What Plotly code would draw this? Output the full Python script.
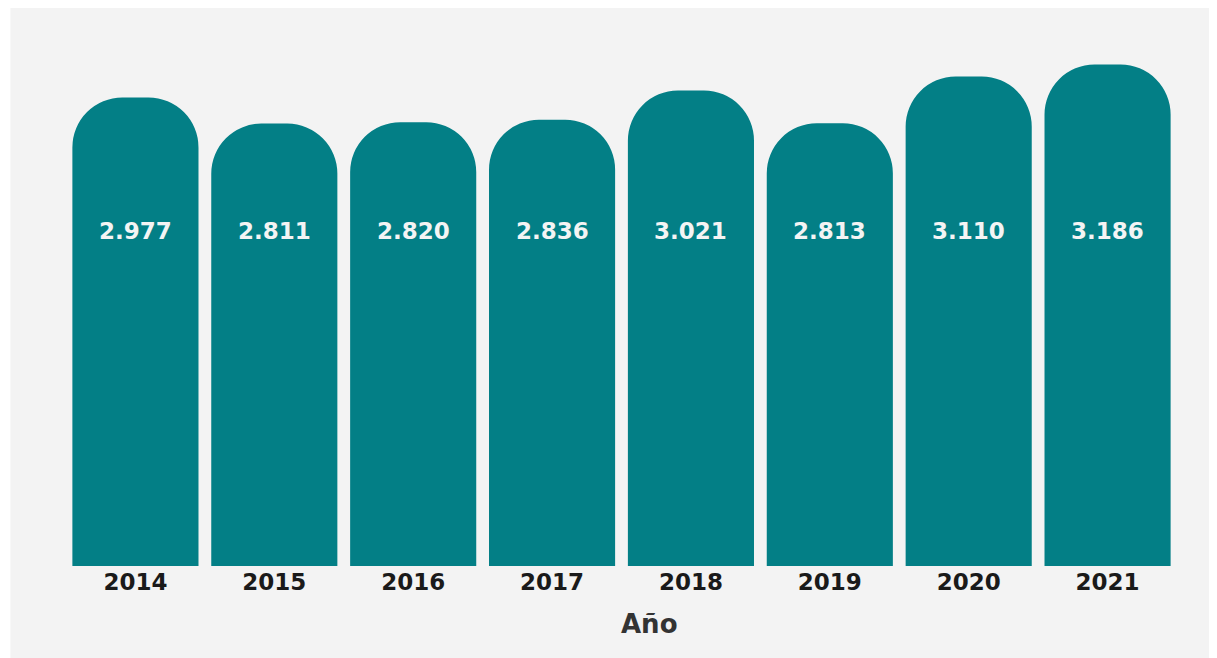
import plotly.graph_objects as go

# datos
anios = ["2014", "2015", "2016", "2017", "2018", "2019", "2020", "2021"]
valores = [2977, 2811, 2820, 2836, 3021, 2813, 3110, 3186]
etiquetas = ["2.977", "2.811", "2.820", "2.836", "3.021", "2.813", "3.110", "3.186"]
titulo_x = "Año"

TEAL = "#037f86"
GRIS = "#f3f3f3"
FUENTE = "DejaVu Sans, Arial, sans-serif"

fig = go.Figure()
fig.add_trace(go.Bar(
    x=anios,
    y=valores,
    marker=dict(color=TEAL, cornerradius=50, line=dict(width=0)),
    hoverinfo="x+y",
))

# etiquetas de valor a altura fija (x = indice de categoria)
for i, t in enumerate(etiquetas):
    fig.add_annotation(
        x=i, y=0.637, xref="x", yref="paper",
        text="<b>%s</b>" % t, showarrow=False,
        font=dict(family=FUENTE, size=23, color="#f4f4f4"),
    )

# titulo del eje x (algo desplazado a la derecha, como en el original)
fig.add_annotation(
    x=0.525, y=-0.11, xref="paper", yref="paper",
    text="<b>%s</b>" % titulo_x, showarrow=False, yanchor="middle",
    font=dict(family=FUENTE, size=26, color="#333333"),
)

# panel gris de fondo
fig.add_shape(
    type="rect", xref="paper", yref="paper",
    x0=-0.05, x1=1.05, y0=-0.2, y1=1.1,
    fillcolor=GRIS, line=dict(width=0), layer="below",
)

fig.update_layout(
    width=1217, height=658,
    margin=dict(l=58, r=48, t=32, b=100),
    paper_bgcolor="white",
    plot_bgcolor="rgba(0,0,0,0)",
    bargap=0.092,
    showlegend=False,
    font=dict(family=FUENTE),
)
fig.update_xaxes(
    type="category",
    showgrid=False, showline=False, zeroline=False, ticks="",
    tickfont=dict(family=FUENTE, size=23, color="#1a1a1a", weight="bold"),
)
fig.update_yaxes(
    range=[0, 3342], visible=False, showgrid=False, zeroline=False,
)

fig.write_html("out.html")
